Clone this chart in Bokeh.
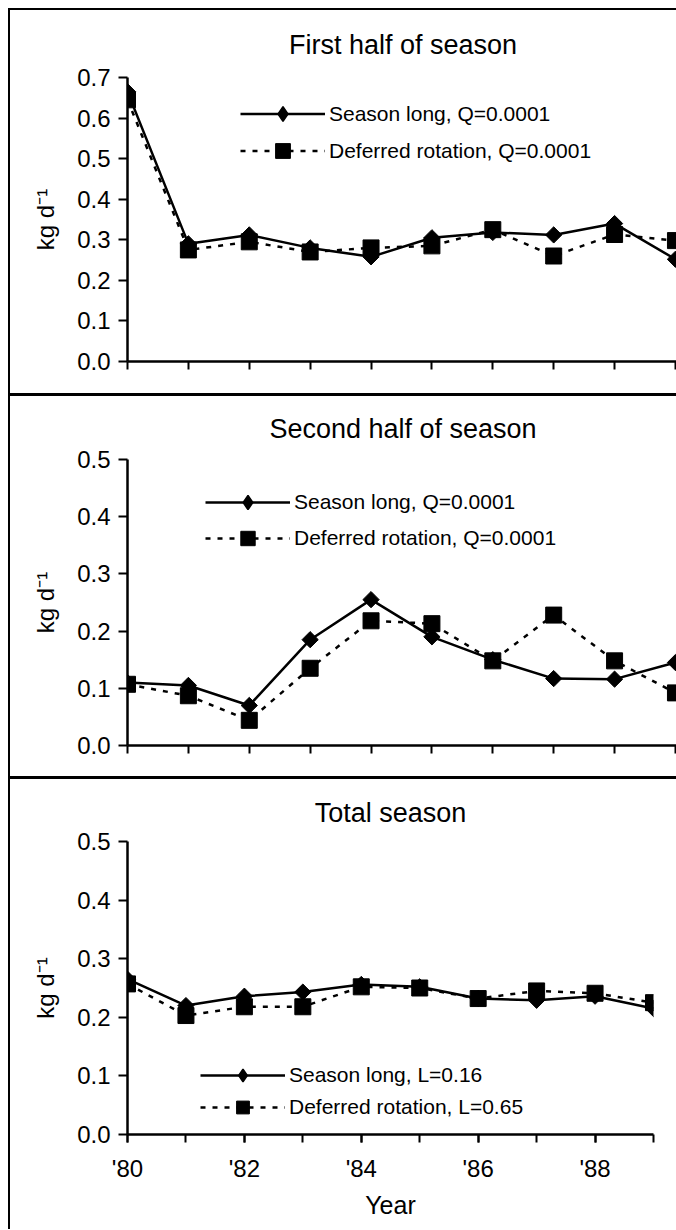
import math
from bokeh.plotting import figure
from bokeh.models import FixedTicker, PrintfTickFormatter, Legend, LegendItem, Range1d
from bokeh.layouts import column
from bokeh.embed import file_html
from bokeh.resources import INLINE

# ---------------- data ----------------
years = [1980, 1981, 1982, 1983, 1984, 1985, 1986, 1987, 1988, 1989]

first_season_long = [0.665, 0.29, 0.312, 0.28, 0.258, 0.305, 0.318, 0.312, 0.34, 0.252]
first_deferred = [0.645, 0.275, 0.295, 0.27, 0.28, 0.285, 0.325, 0.26, 0.313, 0.298]

second_season_long = [0.11, 0.105, 0.07, 0.185, 0.255, 0.19, 0.15, 0.117, 0.116, 0.145]
second_deferred = [0.107, 0.087, 0.044, 0.135, 0.218, 0.213, 0.148, 0.228, 0.148, 0.092]

total_season_long = [0.265, 0.22, 0.236, 0.243, 0.256, 0.252, 0.232, 0.229, 0.236, 0.215]
total_deferred = [0.257, 0.203, 0.218, 0.218, 0.252, 0.25, 0.232, 0.245, 0.241, 0.225]

panel_titles = ["First half of season", "Second half of season", "Total season"]
legend_season_long = ["Season long, Q=0.0001", "Season long, Q=0.0001", "Season long, L=0.16"]
legend_deferred = ["Deferred rotation, Q=0.0001", "Deferred rotation, Q=0.0001", "Deferred rotation, L=0.65"]

y_max = [0.7, 0.5, 0.5]
y_ticks = [
    [0.0, 0.1, 0.2, 0.3, 0.4, 0.5, 0.6, 0.7],
    [0.0, 0.1, 0.2, 0.3, 0.4, 0.5],
    [0.0, 0.1, 0.2, 0.3, 0.4, 0.5],
]
x_tick_labels = {1980: "'80", 1982: "'82", 1984: "'84", 1986: "'86", 1988: "'88"}
y_axis_label = "kg d\u207b\u00b9"
x_axis_label = "Year"

FONT = "Liberation Sans"


def make_panel(i, sl, dr, frame_width, x_end, frame_height, mb_top, mb_bottom,
               mb_right, title_standoff, legend_loc, legend_row, border_top, show_x_labels):
    p = figure(frame_width=frame_width, frame_height=frame_height,
               x_range=Range1d(years[0], x_end), y_range=Range1d(0, y_max[i]),
               min_border_left=117, min_border_right=mb_right,
               min_border_top=mb_top, min_border_bottom=mb_bottom,
               output_backend="svg", toolbar_location=None,
               title=panel_titles[i])
    p.styles = {"border-left": "2px solid black",
                "border-top": f"{border_top}px solid black",
                "border-right": "0px solid white",
                "border-bottom": "0px solid white",
                "overflow": "hidden"}
    p.background_fill_color = "white"
    p.border_fill_color = "white"
    p.outline_line_color = None
    p.xgrid.visible = False
    p.ygrid.visible = False

    p.title.align = "center"
    p.title.text_font = FONT
    p.title.text_font_size = "27px"
    p.title.text_font_style = "normal"
    p.title.text_color = "black"
    p.title.standoff = title_standoff

    xa = p.xaxis[0]
    xa.axis_line_width = 2.5
    xa.axis_line_color = "black"
    xa.major_tick_line_width = 2
    xa.major_tick_line_color = "black"
    xa.major_tick_out = 8
    xa.major_tick_in = 0
    xa.minor_tick_line_width = 2
    xa.minor_tick_line_color = "black"
    xa.minor_tick_out = 8
    xa.minor_tick_in = 0
    if show_x_labels:
        xa.ticker = FixedTicker(ticks=list(x_tick_labels.keys()), minor_ticks=years)
        xa.major_label_overrides = dict(x_tick_labels)
        xa.major_label_text_font = FONT
        xa.major_label_text_font_size = "24px"
        xa.major_label_text_color = "black"
        xa.major_label_standoff = 12
        xa.axis_label = x_axis_label
        xa.axis_label_text_font = FONT
        xa.axis_label_text_font_size = "25px"
        xa.axis_label_text_font_style = "normal"
        xa.axis_label_text_color = "black"
        xa.axis_label_standoff = 6
    else:
        xa.ticker = FixedTicker(ticks=[], minor_ticks=years)
        xa.major_label_standoff = 0

    ya = p.yaxis[0]
    ya.ticker = FixedTicker(ticks=y_ticks[i])
    ya.formatter = PrintfTickFormatter(format="%.1f")
    ya.axis_line_width = 2.5
    ya.axis_line_color = "black"
    ya.major_tick_line_width = 2
    ya.major_tick_line_color = "black"
    ya.major_tick_out = 9
    ya.major_tick_in = 0
    ya.minor_tick_line_color = None
    ya.major_label_text_font = FONT
    ya.major_label_text_font_size = "24px"
    ya.major_label_text_color = "black"
    ya.major_label_standoff = 8
    ya.axis_label = y_axis_label
    ya.axis_label_text_font = FONT
    ya.axis_label_text_font_size = "24px"
    ya.axis_label_text_font_style = "normal"
    ya.axis_label_text_color = "black"
    ya.axis_label_standoff = 15

    # season long: solid line with diamonds
    r1l = p.line(years, sl, line_color="black", line_width=2.5)
    p.scatter(years, sl, marker="square", angle=math.pi / 4, size=11.5,
              fill_color="black", line_color="black")
    # legend-only diamond (size 0 in the plot; the legend sizes its own marker)
    r1k = p.scatter(years, sl, marker="diamond", size=0,
                    fill_color="black", line_color="black", line_width=1.5)
    # deferred rotation: dotted line with squares
    r2l = p.line(years, dr, line_color="black", line_width=2.5, line_dash="5 7")
    r2s = p.scatter(years, dr, marker="square", size=16,
                    fill_color="black", line_color="black")

    legend = Legend(items=[LegendItem(label=legend_season_long[i], renderers=[r1l, r1k]),
                           LegendItem(label=legend_deferred[i], renderers=[r2l, r2s])],
                    location=legend_loc, orientation="vertical",
                    glyph_width=85, glyph_height=legend_row, label_height=26,
                    label_standoff=4, spacing=0, padding=0, margin=0,
                    border_line_color=None, background_fill_alpha=0,
                    label_text_font=FONT, label_text_font_size="21px",
                    label_text_color="black")
    p.add_layout(legend)
    return p


p1 = make_panel(0, first_season_long, first_deferred, 549, 1989.05, 282, 67, 34, 0,
                35, (113, 192), 37, 2, False)
p2 = make_panel(1, second_season_long, second_deferred, 549, 1989.05, 283, 63, 34, 0,
                31, (78, 189), 36, 3, False)
p3 = make_panel(2, total_season_long, total_deferred, 524, 1989, 290, 62, 98, 25,
                28, (73, 11), 32, 3, True)

layout = column(p1, p2, p3, spacing=0, margin=(8, 0, 0, 8))

open("out.html", "w").write(file_html(layout, INLINE))
